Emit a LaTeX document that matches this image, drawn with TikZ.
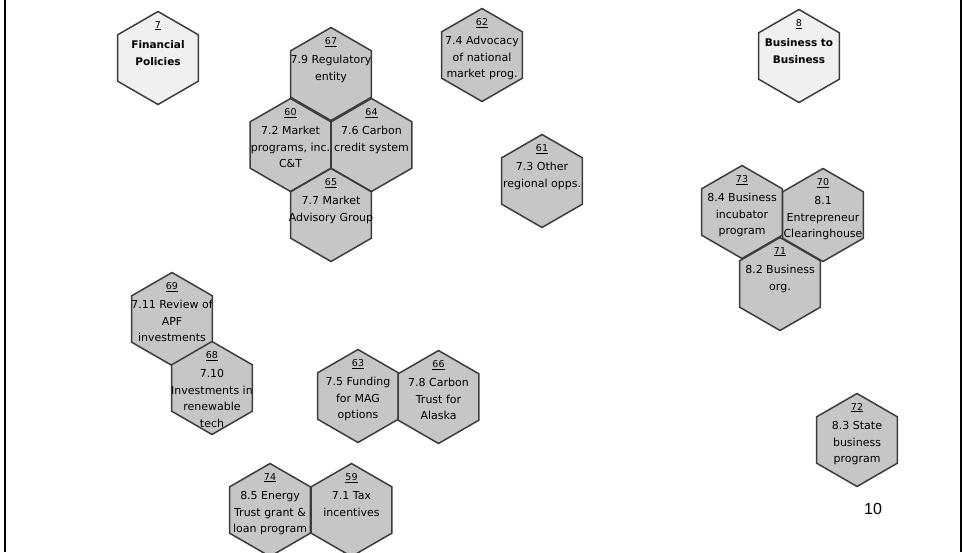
\documentclass[tikz,border=0pt]{standalone}
\usepackage{fontspec}
\setmainfont{DejaVu Sans}
\newfontfamily\pagefont{Liberation Sans}
\usetikzlibrary{shapes.geometric}
\definecolor{hexdark}{HTML}{C6C6C6}
\definecolor{hexlight}{HTML}{F0F0F0}
\definecolor{hexline}{HTML}{3C3C3C}
\tikzset{
  hexa/.style={regular polygon, regular polygon sides=6, shape border rotate=30,
    minimum size=93pt, inner sep=0pt, outer sep=0pt, draw=hexline, line width=1.5pt, fill=hexdark},
  hexhead/.style={hexa, fill=hexlight},
  hextext/.style={anchor=north, align=center, inner sep=0pt, font=\fontsize{11}{16.5}\selectfont},
  headtext/.style={hextext, font=\bfseries\fontsize{10.5}{17}\selectfont},
}
\newcommand{\hexnum}[1]{{\mdseries\fontsize{9.5}{16.5}\selectfont\underline{#1}}\\[3pt]}
\begin{document}
\begin{tikzpicture}[x=1pt,y=-1pt]
  \useasboundingbox (0,0) rectangle (964,552);
  % slide frame
  \draw[line width=2.4pt] (5,0) -- (5,552);
  \draw[line width=2.8pt] (961,0) -- (961,552);
  % headings
  \node[hexhead] (h7) at (158,58) {};
  \node[headtext] (t7) at ([yshift=37pt]h7.center) {\hexnum{7}Financial\\Policies};
  \node[hexhead] (h8) at (799,56) {};
  \node[headtext] (t8) at ([yshift=37pt]h8.center) {\hexnum{8}Business to\\Business};
  % market cluster
  \node[hexa] (h67) at (331,74) {};
  \node[hextext] (t67) at ([yshift=37pt]h67.center) {\hexnum{67}7.9 Regulatory\\entity};
  \node[hexa] (h60) at (290.5,145) {};
  \node[hextext] (t60) at ([yshift=37pt]h60.center) {\hexnum{60}7.2 Market\\programs, inc.\\C\&T};
  \node[hexa] (h64) at (371.5,145) {};
  \node[hextext] (t64) at ([yshift=37pt]h64.center) {\hexnum{64}7.6 Carbon\\credit system};
  \node[hexa] (h65) at (331,215) {};
  \node[hextext] (t65) at ([yshift=37pt]h65.center) {\hexnum{65}7.7 Market\\Advisory Group};
  % single ones
  \node[hexa] (h62) at (482,55) {};
  \node[hextext] (t62) at ([yshift=37pt]h62.center) {\hexnum{62}7.4 Advocacy\\of national\\market prog.};
  \node[hexa] (h61) at (542,181) {};
  \node[hextext] (t61) at ([yshift=37pt]h61.center) {\hexnum{61}7.3 Other\\regional opps.};
  \node[hexa] (h72) at (857,440) {};
  \node[hextext] (t72) at ([yshift=37pt]h72.center) {\hexnum{72}8.3 State\\business\\program};
  % business cluster
  \node[hexa] (h73) at (742,212) {};
  \node[hextext] (t73) at ([yshift=37pt]h73.center) {\hexnum{73}8.4 Business\\incubator\\program};
  \node[hexa] (h70) at (823,215) {};
  \node[hextext] (t70) at ([yshift=37pt]h70.center) {\hexnum{70}8.1\\Entrepreneur\\Clearinghouse};
  \node[hexa] (h71) at (780,284) {};
  \node[hextext] (t71) at ([yshift=37pt]h71.center) {\hexnum{71}8.2 Business\\org.};
  % investments
  \node[hexa] (h69) at (172,319) {};
  \node[hextext] (t69) at ([yshift=37pt]h69.center) {\hexnum{69}7.11 Review of\\APF\\investments};
  \node[hexa] (h68) at (212,388) {};
  \node[hextext] (t68) at ([yshift=37pt]h68.center) {\hexnum{68}7.10\\Investments in\\renewable\\tech};
  % funding pair
  \node[hexa] (h63) at (358,396) {};
  \node[hextext] (t63) at ([yshift=37pt]h63.center) {\hexnum{63}7.5 Funding\\for MAG\\options};
  \node[hexa] (h66) at (438.5,397) {};
  \node[hextext] (t66) at ([yshift=37pt]h66.center) {\hexnum{66}7.8 Carbon\\Trust for\\Alaska};
  % bottom pair
  \node[hexa] (h74) at (270,510) {};
  \node[hextext] (t74) at ([yshift=37pt]h74.center) {\hexnum{74}8.5 Energy\\Trust grant \&\\loan program};
  \node[hexa] (h59) at (351.5,510) {};
  \node[hextext] (t59) at ([yshift=37pt]h59.center) {\hexnum{59}7.1 Tax\\incentives};
  % page number
  \node[font=\pagefont\fontsize{16}{16}\selectfont] (page) at (873,509) {10};
\end{tikzpicture}
\end{document}
